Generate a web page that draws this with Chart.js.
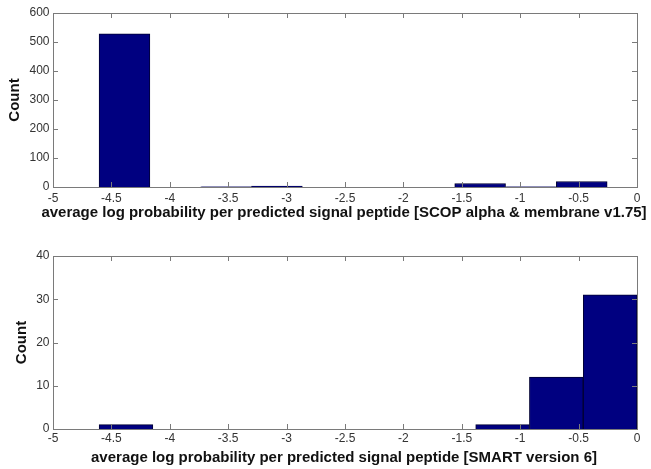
<!DOCTYPE html>
<html><head><meta charset="utf-8">
<script src="https://cdn.jsdelivr.net/npm/chart.js@4/dist/chart.umd.min.js"></script>
<style>html,body{margin:0;padding:0;background:#fff;} canvas{position:absolute;left:0;}</style>
</head><body>
<canvas id="cTop" width="651" height="230" style="top:0px"></canvas>
<canvas id="cBottom" width="651" height="239" style="top:230px"></canvas>
<script>
// ---- data ----
const scopBinCenters = [-4.388, -3.953, -3.518, -3.083, -2.648, -2.213, -1.778, -1.343, -0.908, -0.473];
const scopCounts = [528, 0, 1, 3, 0, 0, 0, 12, 1, 19];
const smartBinCenters = [-4.375, -3.914, -3.454, -2.993, -2.533, -2.072, -1.612, -1.151, -0.691, -0.230];
const smartCounts = [1, 0, 0, 0, 0, 0, 0, 1, 12, 31];
const xRange = [-5, 0];
const xTickStep = 0.5;
const scopYRange = [0, 600];
const scopYStep = 100;
const smartYRange = [0, 40];
const smartYStep = 10;
const yLabel = 'Count';
const scopXLabel = 'average log probability per predicted signal peptide [SCOP alpha & membrane v1.75]';
const smartXLabel = 'average log probability per predicted signal peptide [SMART version 6]';

const FONT = '"Liberation Sans", Arial, sans-serif';

const matlabAxes = {
  id: 'matlabAxes',
  afterDatasetsDraw(chart, args, opts) {
    const {ctx, chartArea: a, scales: {x, y}} = chart;
    ctx.save();
    ctx.strokeStyle = '#7a7a7a';
    ctx.lineWidth = 1;
    const tl = 5;
    ctx.beginPath();
    x.ticks.forEach(t => {
      const px = Math.round(x.getPixelForValue(t.value)) + 0.5;
      ctx.moveTo(px, a.bottom); ctx.lineTo(px, a.bottom - tl);
      ctx.moveTo(px, a.top); ctx.lineTo(px, a.top + tl);
    });
    y.ticks.forEach(t => {
      const py = Math.round(y.getPixelForValue(t.value)) + 0.5;
      ctx.moveTo(a.left, py); ctx.lineTo(a.left + tl, py);
      ctx.moveTo(a.right, py); ctx.lineTo(a.right - tl, py);
    });
    ctx.stroke();
    ctx.strokeRect(Math.round(a.left) + 0.5, Math.round(a.top) + 0.5,
                   Math.round(a.right - a.left), Math.round(a.bottom - a.top));
    // x axis title
    ctx.fillStyle = '#111';
    ctx.font = 'bold 15px ' + FONT;
    ctx.textAlign = 'center';
    ctx.textBaseline = 'middle';
    ctx.fillText(opts.text, (a.left + a.right) / 2 - 1, opts.y);
    ctx.restore();
  }
};

const fmt = v => String(Math.round(v * 10) / 10);

function makeChart(id, centers, counts, yRange, yStep, xLabel, lay) {
  return new Chart(document.getElementById(id), {
    type: 'bar',
    data: {
      datasets: [{
        data: centers.map((c, i) => ({x: c, y: counts[i]})),
        backgroundColor: '#000080',
        borderColor: '#000033',
        borderWidth: 1,
        barPercentage: 1,
        categoryPercentage: 1
      }]
    },
    options: {
      responsive: false,
      animation: false,
      devicePixelRatio: 1,
      layout: {padding: {top: lay.padTop, right: 14, left: 0, bottom: 0}},
      plugins: {
        legend: {display: false},
        tooltip: {enabled: false},
        matlabAxes: {text: xLabel, y: lay.xTitleY}
      },
      scales: {
        x: {
          type: 'linear', min: xRange[0], max: xRange[1], offset: false,
          grid: {display: false, drawTicks: false},
          border: {display: false},
          ticks: {stepSize: xTickStep, autoSkip: false, maxRotation: 0, padding: lay.xTickPad,
                  color: '#333', font: {family: FONT, size: 12}, callback: fmt},
          afterFit(s) { s.height = lay.xHeight; }
        },
        y: {
          min: yRange[0], max: yRange[1],
          grid: {display: false, drawTicks: false},
          border: {display: false},
          ticks: {stepSize: yStep, padding: 3.5, color: '#333', font: {family: FONT, size: 12}, callback: fmt},
          title: {display: true, text: yLabel, color: '#111',
                  font: {family: FONT, size: 15, weight: 'bold'},
                  padding: {top: lay.yTitlePad, bottom: 0}},
          afterFit(s) { s.width = 53; }
        }
      }
    },
    plugins: [matlabAxes]
  });
}

makeChart('cTop', scopBinCenters, scopCounts, scopYRange, scopYStep, scopXLabel,
  {padTop: 13, xHeight: 43, xTickPad: 4, yTitlePad: 6, xTitleY: 213});
makeChart('cBottom', smartBinCenters, smartCounts, smartYRange, smartYStep, smartXLabel,
  {padTop: 26, xHeight: 40, xTickPad: 2, yTitlePad: 13, xTitleY: 228});
</script>
</body></html>
